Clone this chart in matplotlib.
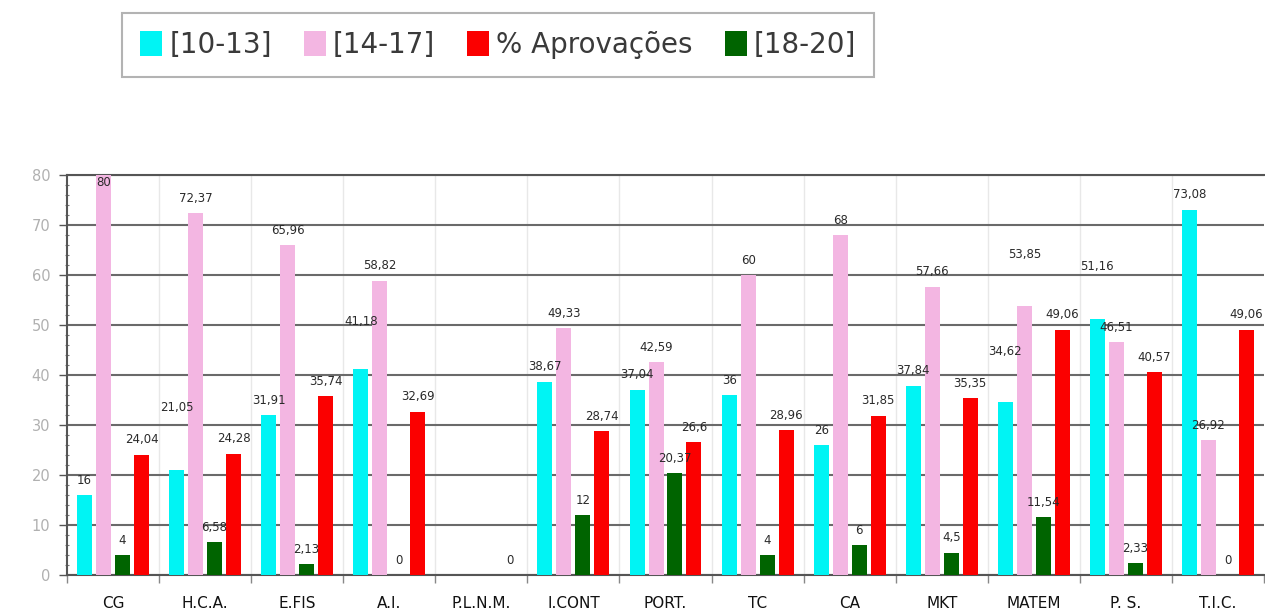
import numpy as np
import matplotlib
matplotlib.use("Agg")
import matplotlib.pyplot as plt
from matplotlib.ticker import MultipleLocator, FixedLocator

# ---- data -------------------------------------------------------------
categories = ["CG", "H.C.A.", "E.FIS", "A.I.", "P.L.N.M.", "I.CONT", "PORT.",
              "TC", "CA", "MKT", "MATEM", "P. S.", "T.I.C."]

nota_10_13 = [16, 21.05, 31.91, 41.18, np.nan, 38.67, 37.04, 36, 26, 37.84, 34.62, 51.16, 73.08]
nota_14_17 = [80, 72.37, 65.96, 58.82, np.nan, 49.33, 42.59, 60, 68, 57.66, 53.85, 46.51, 26.92]
nota_18_20 = [4, 6.58, 2.13, 0, np.nan, 12, 20.37, 4, 6, 4.5, 11.54, 2.33, 0]
aprovacoes = [24.04, 24.28, 35.74, 32.69, 0, 28.74, 26.6, 28.96, 31.85, 35.35, 49.06, 40.57, 49.06]

series_names = ["[10-13]", "[14-17]", "[18-20]", "% Aprovações"]
series_values = [nota_10_13, nota_14_17, nota_18_20, aprovacoes]
series_colors = ["#00f4f4", "#f3b6e2", "#006400", "#fb0000"]
legend_order = [0, 1, 3, 2]

y_ticks = list(range(0, 81, 10))

# labels lifted further to keep them clear of neighbouring bars
label_lift = {(1, 0): 9.4, (3, 0): 6.6, (10, 0): 7.0, (10, 1): 7.3, (11, 0): 7.5}

# ---- figure -----------------------------------------------------------
W, H = 1265, 614
fig = plt.figure(figsize=(W / 100, H / 100), dpi=100, facecolor="white")
ax = fig.add_axes([67 / W, (H - 575) / H, (1264 - 67) / W, (575 - 175) / H])

x = np.arange(len(categories))
step = 0.206
width = 0.163
offsets = (np.arange(4) - 1.5) * step

handles = []
for k, (name, vals, col) in enumerate(zip(series_names, series_values, series_colors)):
    vals = np.asarray(vals, dtype=float)
    bars = ax.bar(x + offsets[k], np.nan_to_num(vals), width=width, color=col,
                  label=name, zorder=3, linewidth=0)
    handles.append(bars)
    for i, v in enumerate(vals):
        if np.isnan(v):
            continue
        ty = min(v + 3.0 + label_lift.get((i, k), 0.0), 78.4)
        txt = f"{v:g}".replace(".", ",")
        ax.text(x[i] + offsets[k], ty, txt, ha="center", va="center",
                fontsize=8.5, color="#2a2a2a", zorder=5)

ax.set_xlim(-0.5, len(categories) - 0.5)
ax.set_ylim(0, 80)

# y axis
ax.yaxis.set_major_locator(FixedLocator(y_ticks))
ax.yaxis.set_minor_locator(MultipleLocator(2))
ax.tick_params(axis="y", which="major", length=6, width=1, color="#555555",
               labelsize=10.5, labelcolor="#b0b0b0", pad=6)
ax.tick_params(axis="y", which="minor", length=3, width=0.8, color="#777777",
               direction="inout")
ax.grid(axis="y", which="major", color="#6a6a6a", linewidth=1.5, zorder=1)

# x axis: category names centred, separators between groups
ax.set_xticks(x)
ax.set_xticklabels(categories)
ax.set_xticks(np.arange(len(categories) + 1) - 0.5, minor=True)
ax.tick_params(axis="x", which="major", length=0, labelsize=11, labelcolor="#111111", pad=15)
ax.tick_params(axis="x", which="minor", length=6, width=1, color="#888888")
for b in np.arange(1, len(categories)) - 0.5:
    ax.axvline(b, color="#e8e8e8", linewidth=1, zorder=0)

for side in ["left", "bottom", "top"]:
    ax.spines[side].set_color("#555555")
    ax.spines[side].set_linewidth(1.5)
ax.spines["right"].set_visible(False)

# legend
leg = fig.legend([handles[i] for i in legend_order],
                 [series_names[i] for i in legend_order],
                 loc="upper left", bbox_to_anchor=(122 / W, 1 - 13 / H),
                 borderaxespad=0, ncol=4, fontsize=20, frameon=True, fancybox=False,
                 handlelength=0.8, handleheight=1.0, handletextpad=0.25,
                 columnspacing=1.15, borderpad=0.65, labelcolor="#3a3a3a")
leg.get_frame().set_edgecolor("#a0a0a0")
leg.get_frame().set_linewidth(1.5)

fig.savefig("out.png", dpi=100, facecolor="white")
